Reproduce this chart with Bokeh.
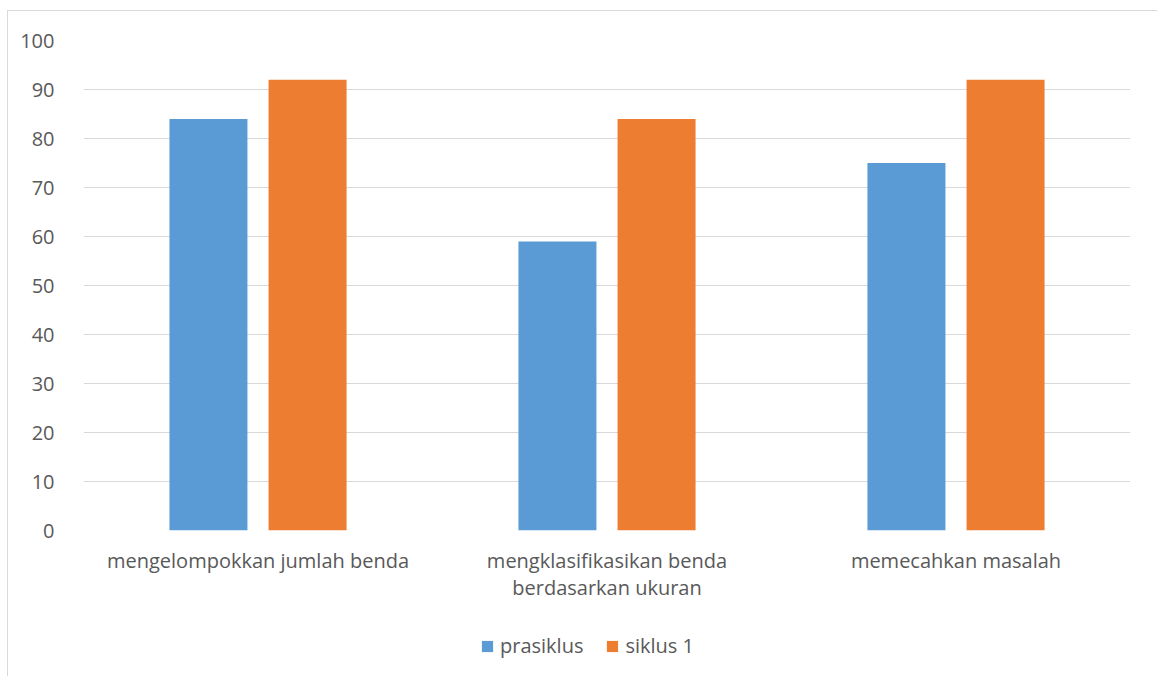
from bokeh.plotting import figure
from bokeh.layouts import column
from bokeh.models import ColumnDataSource, FixedTicker, Legend, LegendItem
from bokeh.embed import file_html
from bokeh.resources import INLINE

categories = ["mengelompokkan jumlah benda", "mengklasifikasikan benda\nberdasarkan ukuran", "memecahkan masalah"]
prasiklus = [84, 59, 75]
siklus1 = [92, 84, 92]
series_names = ["prasiklus", "siklus 1"]
y_ticks = list(range(0, 101, 10))

FONT = "Open Sans"
TXT = "#595959"
GRID = "#d9d9d9"
BLUE = "#5B9BD5"
ORANGE = "#ED7D31"

p = figure(frame_width=1047, frame_height=490, output_backend="svg", toolbar_location=None,
           x_range=(0, 3), y_range=(0, 100),
           min_border_left=75, min_border_top=29, min_border_right=27, min_border_bottom=80)
p.outline_line_color = None
p.background_fill_color = "white"

xc = [i + 0.5 for i in range(len(categories))]
off = 0.142
bw = 0.2235
src = ColumnDataSource(dict(
    x1=[x - off for x in xc], x2=[x + off for x in xc],
    a=prasiklus, b=siklus1))
p.vbar(x="x1", top="a", width=bw, source=src, fill_color=BLUE, line_color=None)
p.vbar(x="x2", top="b", width=bw, source=src, fill_color=ORANGE, line_color=None)

# axes
p.yaxis.ticker = FixedTicker(ticks=y_ticks)
p.yaxis.axis_line_color = None
p.yaxis.major_tick_line_color = None
p.yaxis.minor_tick_line_color = None
p.yaxis.major_label_text_font = FONT
p.yaxis.major_label_text_font_size = "20px"
p.yaxis.major_label_text_color = TXT
p.yaxis.major_label_standoff = 23

p.xaxis.ticker = FixedTicker(ticks=xc)
p.xaxis.major_label_overrides = {x: c for x, c in zip(xc, categories)}
p.xaxis.axis_line_color = None
p.xaxis.major_tick_line_color = None
p.xaxis.minor_tick_line_color = None
p.xaxis.major_label_text_font = FONT
p.xaxis.major_label_text_font_size = "20px"
p.xaxis.major_label_text_color = TXT
p.xaxis.major_label_standoff = 10
p.xaxis.major_label_text_line_height = 1.03

p.xgrid.grid_line_color = None
p.ygrid.grid_line_color = GRID
p.ygrid.grid_line_width = 1
p.ygrid.ticker = FixedTicker(ticks=y_ticks)

# legend strip below the chart (proxy renderers kept outside the visible range)
lg = figure(frame_width=1149, frame_height=66, output_backend="svg", toolbar_location=None,
            x_axis_type=None, y_axis_type=None, x_range=(0, 1), y_range=(0, 1),
            min_border=0)
lg.outline_line_color = None
lg.xgrid.grid_line_color = None
lg.ygrid.grid_line_color = None
proxy = ColumnDataSource(dict(x=[-5.0], top=[0.0]))
d1 = lg.vbar(x="x", top="top", width=0.1, source=proxy, fill_color=BLUE, line_color=None)
d2 = lg.vbar(x="x", top="top", width=0.1, source=proxy, fill_color=ORANGE, line_color=None)

legend = Legend(items=[LegendItem(label=series_names[0], renderers=[d1]),
                       LegendItem(label=series_names[1], renderers=[d2])],
                location=(472, 17), orientation="horizontal")
legend.label_text_font = FONT
legend.label_text_font_size = "20px"
legend.label_text_color = TXT
legend.glyph_width = 14
legend.glyph_height = 14
legend.label_standoff = 6
legend.spacing = 22
legend.padding = 0
legend.margin = 0
legend.border_line_color = None
legend.background_fill_alpha = 0
lg.add_layout(legend, "center")

layout = column(p, lg, spacing=0)
layout.styles = {"border-left": "1px solid #d9d9d9", "border-top": "1px solid #d9d9d9",
                 "margin-left": "7px", "margin-top": "10px"}

open("out.html", "w").write(file_html(layout, INLINE))
